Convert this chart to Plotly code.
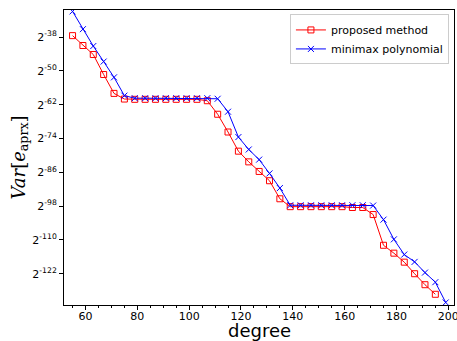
import math
import plotly.graph_objects as go

# degree values
deg_proposed = list(range(55, 196, 4))   # 55..195
deg_minimax = list(range(55, 200, 4))    # 55..199

# log2 of Var[e_aprx]
log2_proposed = [-37.5, -41.0, -44.2, -51.3, -58.0, -60.0,
                 -60.1, -60.1, -60.1, -60.1, -60.1, -60.1, -60.1,
                 -60.6,
                 -65.4, -71.7, -78.5, -82.3, -85.7, -89.0, -95.4,
                 -98.2, -98.2, -98.2, -98.2, -98.2, -98.2,
                 -98.5, -98.5,
                 -101.0, -111.9, -114.7, -117.9, -122.0, -125.9, -129.3]
log2_minimax = [-28.9, -35.2, -41.2, -46.7, -52.3, -58.8,
                -59.7, -59.7, -59.7, -59.7, -59.7, -59.7, -59.7, -59.7,
                -59.9,
                -64.5, -73.5, -77.9, -81.5, -86.4, -91.6,
                -97.7, -97.7, -97.7, -97.7, -97.7, -97.7, -97.7, -97.7, -97.8,
                -102.8, -109.8, -115.2, -117.8, -121.6, -125.0, -132.2]

y_tick_exps = [-38, -50, -62, -74, -86, -98, -110, -122]
x_ticks = [60, 80, 100, 120, 140, 160, 180, 200]

var_proposed = [2.0 ** e for e in log2_proposed]
var_minimax = [2.0 ** e for e in log2_minimax]

fig = go.Figure()
fig.add_trace(go.Scatter(
    x=deg_proposed, y=var_proposed, mode="lines+markers",
    name="proposed method",
    line=dict(color="#ff0000", width=1),
    marker=dict(symbol="square-open", size=6, color="#ff0000",
                line=dict(width=1, color="#ff0000")),
))
fig.add_trace(go.Scatter(
    x=deg_minimax, y=var_minimax, mode="lines+markers",
    name="minimax polynomial",
    line=dict(color="#0000ff", width=1),
    marker=dict(symbol="x-thin-open", size=6, color="#0000ff",
                line=dict(width=1, color="#0000ff")),
))

L2 = math.log10(2.0)
fig.update_layout(
    width=457, height=341,
    margin=dict(l=64, r=3, t=10, b=36, autoexpand=False),
    paper_bgcolor="white", plot_bgcolor="white",
    font=dict(family="DejaVu Sans", size=11, color="black"),
    showlegend=True,
    legend=dict(
        x=0.987, y=0.985, xanchor="right", yanchor="top",
        bgcolor="white", bordercolor="#cccccc", borderwidth=1,
        font=dict(family="DejaVu Sans", size=11, color="black"),
        itemwidth=30, tracegroupgap=0,
    ),
    xaxis=dict(
        range=[51.7, 202.2],
        tickvals=x_ticks,
        ticks="outside", ticklen=4, tickwidth=1, tickcolor="black",
        minor=dict(dtick=5, ticks="outside", ticklen=2, tickcolor="black"),
        showline=True, linecolor="black", linewidth=1, mirror=True,
        showgrid=False, zeroline=False, automargin=False,
        ticklabeloverflow="allow", ticklabelstandoff=-3,
    ),
    yaxis=dict(
        type="log",
        range=[-133.1 * L2, -28.4 * L2],
        tickvals=[2.0 ** e for e in y_tick_exps],
        ticktext=["2<sup>%d</sup>" % e for e in y_tick_exps],
        ticks="outside", ticklen=4, tickwidth=1, tickcolor="black",
        showline=True, linecolor="black", linewidth=1, mirror=True,
        showgrid=False, zeroline=False, automargin=False,
        title=dict(text="<i>Var</i>[<i>e</i><sub>aprx</sub>]",
                   font=dict(family="DejaVu Serif", size=18), standoff=2),
    ),
    annotations=[dict(
        text="degree", xref="paper", yref="paper", x=0.5, y=-0.088,
        xanchor="center", yanchor="middle", showarrow=False,
        font=dict(family="DejaVu Sans", size=18, color="black"),
    )],
)

fig.write_html("out.html",
               config={"displayModeBar": False},
               post_script="document.body.style.margin='0';")
